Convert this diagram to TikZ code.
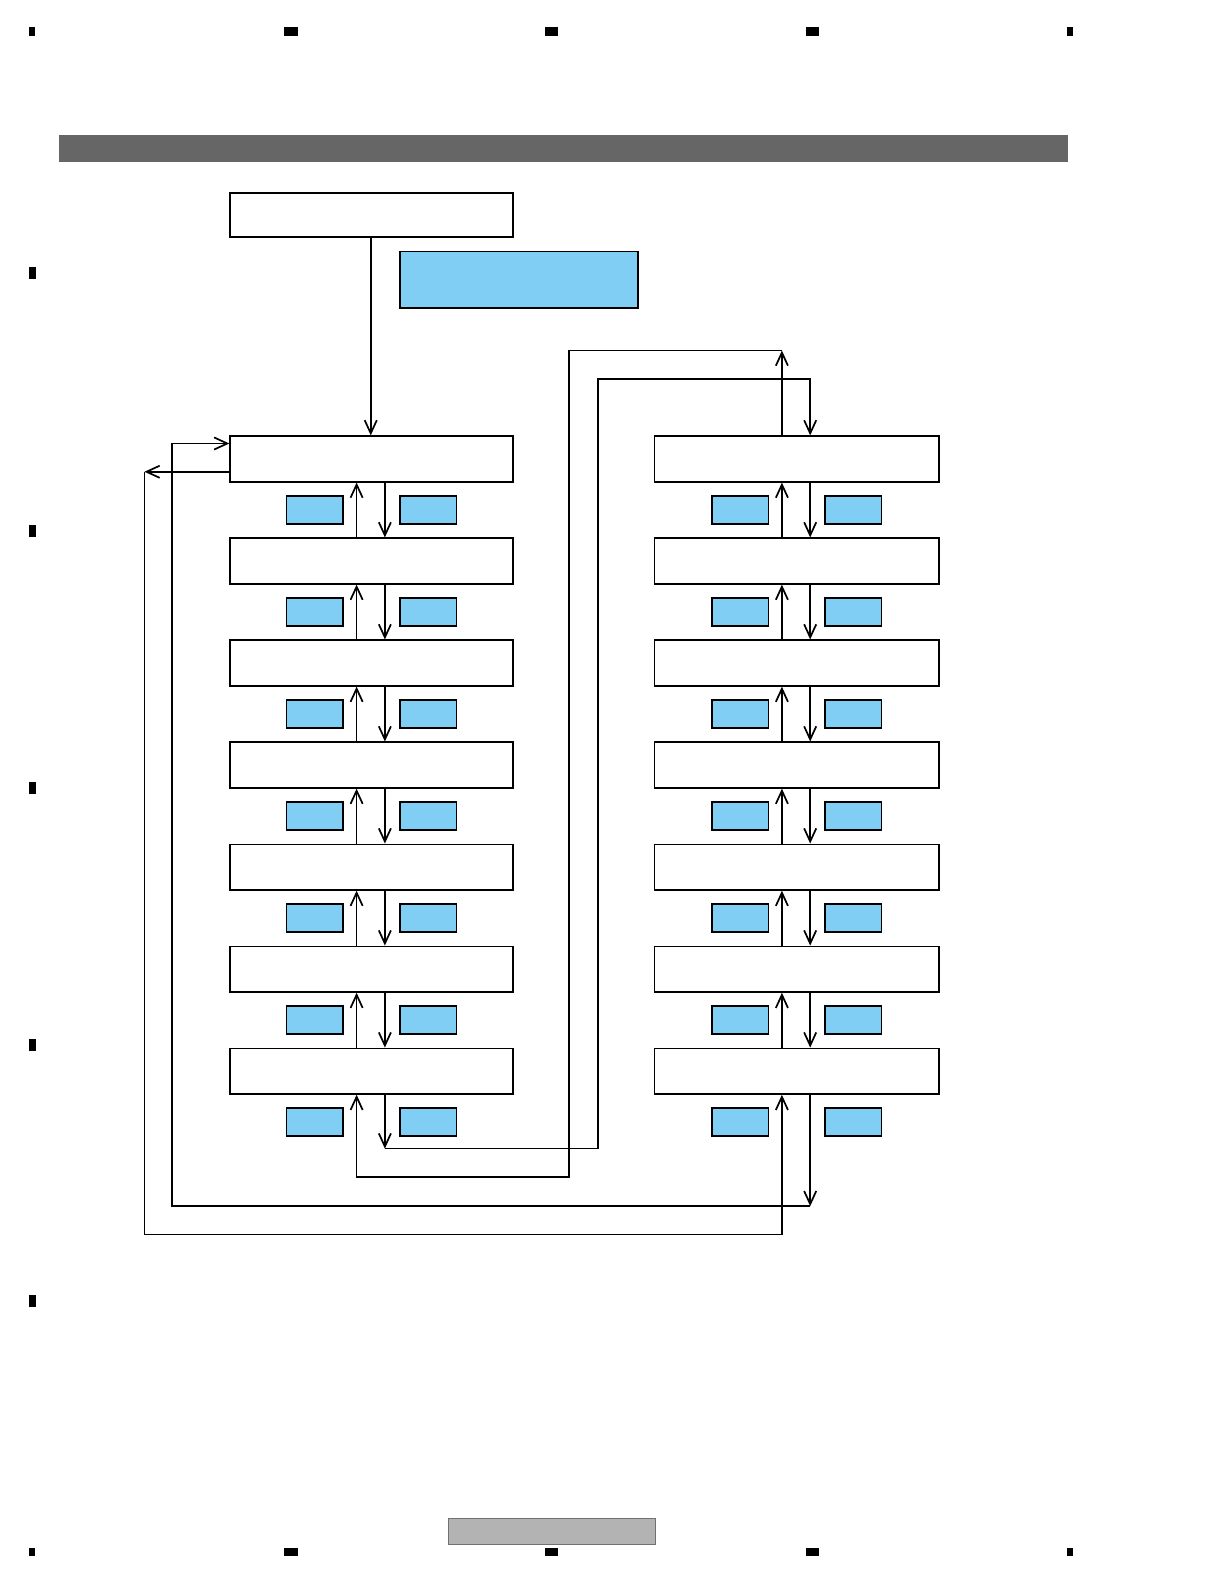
\documentclass[tikz,border=0pt]{standalone}
\usetikzlibrary{arrows.meta}
\definecolor{sky}{HTML}{80CEF4}
\definecolor{barcol}{HTML}{666666}
\definecolor{footcol}{HTML}{B3B3B3}
\definecolor{footedge}{HTML}{707070}
\begin{document}
\begin{tikzpicture}[x=1pt,y=-1pt,
 wbox/.style={draw,fill=white,line width=1.7pt,minimum width=281pt,minimum height=45pt,inner sep=0pt,anchor=north west},
 bbox/.style={draw,fill=sky,line width=1.5pt,minimum width=56pt,minimum height=28pt,inner sep=0pt,anchor=north west},
 conn/.style={line width=1.7pt},
 arr/.style={conn,-{Straight Barb[length=13pt,width=12pt]}},
 pmark/.style={fill=black}
]
\useasboundingbox (0,0) rectangle (1212,1568);
% page marks
\foreach \x/\w in {32/6,288/13,546/13,804/13,1059/6}{
  \fill[pmark] (\x-\w/2,27) rectangle (\x+\w/2,36);
  \fill[pmark] (\x-\w/2,1532) rectangle (\x+\w/2,1540);
}
\foreach \y in {270,526,780,1034,1288}{
  \fill[pmark] (28.5,\y-6) rectangle (35.5,\y+6);
}
% header bar and footer box
\node[fill=barcol,minimum width=999pt,minimum height=27pt,inner sep=0pt,anchor=north west] (hdr) at (58,133) {};
\node[fill=footcol,draw=footedge,line width=0.8pt,minimum width=205pt,minimum height=25pt,inner sep=0pt,anchor=north west] (ftr) at (443,1503) {};
% top boxes
\node[wbox,minimum width=280pt,minimum height=44pt] (T) at (227,190) {};
\node[draw,fill=sky,line width=1.7pt,minimum width=236pt,minimum height=56pt,inner sep=0pt,anchor=north west] (B) at (395,248) {};
% columns
\foreach \i in {1,...,7}{
  \pgfmathsetmacro\yy{431+101*(\i-1)}
  \pgfmathsetmacro\sy{490+101*(\i-1)}
  \node[wbox,minimum width=280pt] (L\i) at (227,\yy) {};
  \node[wbox,minimum width=282pt] (R\i) at (647,\yy) {};
  \node[bbox] (LA\i) at (283,\sy) {};
  \node[bbox] (LB\i) at (395,\sy) {};
  \node[bbox] (RA\i) at (704,\sy) {};
  \node[bbox] (RB\i) at (816,\sy) {};
}
\coordinate (tx) at (367,0);
\coordinate (lu) at (353,0);
\coordinate (ld) at (381,0);
\coordinate (ru) at (774,0);
\coordinate (rd) at (802,0);
\draw[arr] (T.south -| tx) -- (L1.north -| tx);
\foreach \i/\j in {1/2,2/3,3/4,4/5,5/6,6/7}{
  \draw[arr] (L\j.north -| lu) -- (L\i.south -| lu);
  \draw[arr] (L\i.south -| ld) -- (L\j.north -| ld);
  \draw[arr] (R\j.north -| ru) -- (R\i.south -| ru);
  \draw[arr] (R\i.south -| rd) -- (R\j.north -| rd);
}
% feedback loops
\coordinate (f1) at (381,1137);
\coordinate (f1b) at (592,375);
\draw[arr] (L7.south -| ld) -- (f1);
\draw[arr] (f1) -| (f1b) -| (R1.north -| rd);
\coordinate (f2) at (774,347);
\coordinate (f2b) at (563,1165);
\draw[arr] (R1.north -| ru) -- (f2);
\draw[arr] (f2) -| (f2b) -| (L7.south -| lu);
\coordinate (f3) at (802,1194);
\coordinate (g3) at (170,439);
\draw[arr] (R7.south -| rd) -- (f3);
\draw[arr] (f3) -| (g3) -- (g3 -| L1.west);
\coordinate (f4) at (143,467);
\coordinate (g4) at (774,1222);
\draw[arr] (L1.west |- f4) -- (f4);
\draw[arr] (f4) |- (g4) -- (R7.south -| ru);
\end{tikzpicture}
\end{document}
